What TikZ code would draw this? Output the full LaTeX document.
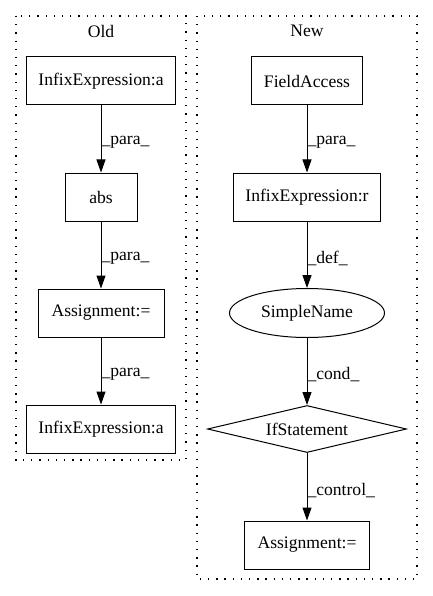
\documentclass[tikz,border=0pt]{standalone}
\usepackage{fontspec}
\setmainfont{Liberation Serif}
\usetikzlibrary{shapes.geometric,arrows.meta}
\begin{document}
\begin{tikzpicture}[x=1pt,y=-1pt,
  every node/.style={font=\fontsize{17.6}{20}\selectfont},
  box/.style={draw,line width=1pt,rectangle,inner sep=0pt,minimum height=48pt},
  cluster/.style={draw,line width=1.3pt,dash pattern=on 1.3pt off 6.9pt},
  edge/.style={draw,line width=1pt,-{Triangle[length=13pt,width=9pt]}},
  lbl/.style={anchor=west,inner sep=0pt}
]
\useasboundingbox (0,0) rectangle (432,596);
% clusters
\draw[cluster] (16,16) rectangle (186,460);
\draw[cluster] (197,16) rectangle (417,579);
\node[inner sep=0pt] (oldlbl) at (101,31) {Old};
\node[inner sep=0pt] (newlbl) at (307,31) {New};
% Old
\node[box,minimum width=149pt] (ia) at (101,81) {InfixExpression:a};
\node[box,minimum width=72pt] (abs) at (101,197) {abs};
\node[box,minimum width=126pt] (as1) at (101,313) {Assignment:=};
\node[box,minimum width=149pt] (ib) at (101,429) {InfixExpression:a};
\draw[edge] (ia) -- node[lbl,pos=0.55] {\_para\_} (abs);
\draw[edge] (abs) -- node[lbl,pos=0.55] {\_para\_} (as1);
\draw[edge] (as1) -- node[lbl,pos=0.55] {\_para\_} (ib);
% New
\node[box,minimum width=111pt] (fa) at (307,81) {FieldAccess};
\node[box,minimum width=147pt] (ir) at (307,197) {InfixExpression:r};
\node[draw,line width=1pt,ellipse,minimum width=155pt,minimum height=49pt,inner sep=0pt] (sn) at (307,313) {SimpleName};
\node[draw,line width=1pt,diamond,aspect=4.2,minimum width=199pt,minimum height=47pt,inner sep=0pt] (ifs) at (307,429) {IfStatement};
\node[box,minimum width=125pt] (as2) at (307,545) {Assignment:=};
\draw[edge] (fa) -- node[lbl,pos=0.55] {\_para\_} (ir);
\draw[edge] (ir) -- node[lbl,pos=0.55] {\_def\_} (sn);
\draw[edge] (sn) -- node[lbl,pos=0.55] {\_cond\_} (ifs);
\draw[edge] (ifs) -- node[lbl,pos=0.55] {\_control\_} (as2);
\end{tikzpicture}
\end{document}
